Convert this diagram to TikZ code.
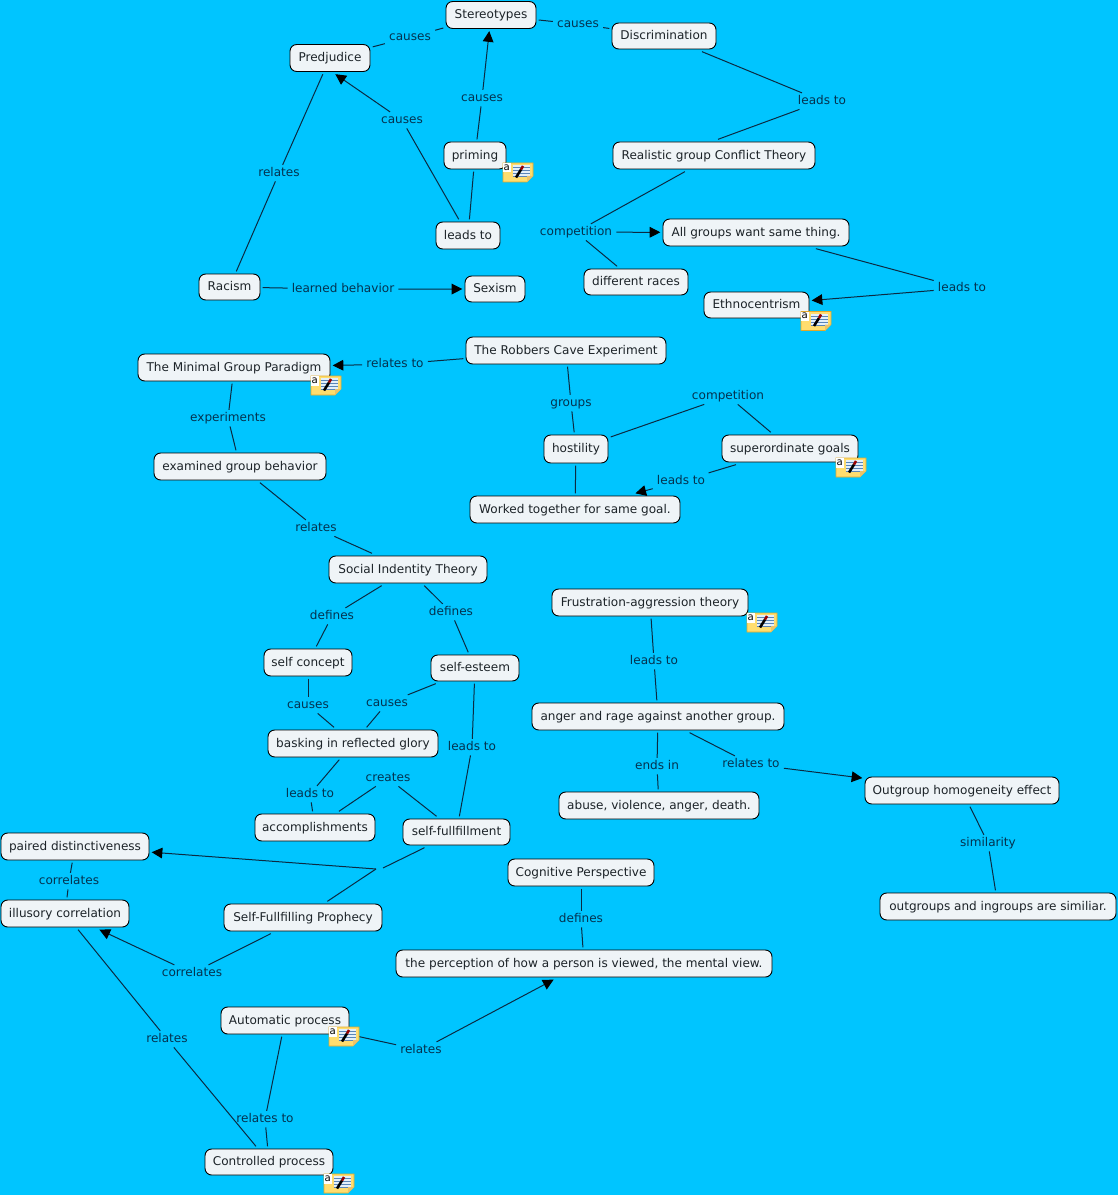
\documentclass[tikz,border=0pt]{standalone}
\usepackage{fontspec}
\setmainfont{DejaVu Sans}
\usetikzlibrary{arrows.meta}
\definecolor{bgblue}{HTML}{00C5FF}
\definecolor{boxfill}{HTML}{EFF4F7}
\definecolor{inkc}{HTML}{1C2328}
\definecolor{linkc}{HTML}{04324F}
\definecolor{linec}{HTML}{0B2A42}
\definecolor{noteY}{HTML}{FFDD6E}
\definecolor{noteE}{HTML}{E2A92A}
\definecolor{noteB}{HTML}{E4F0FA}
\definecolor{noteL}{HTML}{5B86B8}
\tikzset{
  x=0.75pt,y=-0.75pt,
  every node/.style={font=\fontsize{9.05pt}{11pt}\selectfont,text=inkc},
  concept/.style={draw=black,line width=0.7pt,fill=boxfill,rounded corners=5pt,inner sep=0pt,outer sep=2pt,text height=7.8pt,text depth=2.2pt},
  sz/.style 2 args={minimum width=#1*0.75pt,minimum height=#2*0.75pt},
  linkph/.style={inner ysep=0.6pt,inner xsep=2.6pt,outer sep=0.6pt,text=linkc,text height=7.5pt,text depth=2.5pt,yshift=-1.6pt},
  conn/.style={draw=linec,line width=0.75pt},
  arr/.style={conn,-{Triangle[length=8pt,width=8pt,color=black]}},
  noteicon/.pic={
    \fill[noteY,draw=noteE,line width=0.5pt] (-15,-9.5) -- (15,-9.5) -- (15,3.5) -- (9,9.5) -- (-15,9.5) -- cycle;
    \fill[noteB] (-5.5,-7.5) rectangle (12,4.5);
    \foreach \yy in {-5,-2,1,4}{\draw[noteL,line width=0.4pt] (-5.5,\yy) -- (12,\yy);}
    \fill[noteE!70!white] (15,3.5) -- (9,3.5) -- (9,9.5) -- cycle;
    \fill[white] (-15,-9.5) rectangle (-7.5,0);
    \node[inner sep=0pt,font=\fontsize{7.6pt}{8pt}\selectfont,text=black] (glyph) at (-11.2,-5) {a};
    \draw[black,line width=1.9pt] (-2,5) -- (3,-3);
    \draw[red!60!black,line width=1.9pt] (3,-3) -- (5,-6.5);
  }
}
\begin{document}
\begin{tikzpicture}
\fill[bgblue] (0,0) rectangle (1118,1195);
\useasboundingbox (0,0) rectangle (1118,1195);
% concepts
\node[concept,sz={90}{27}] (stereo) at (491,15) {Stereotypes};
\node[concept,sz={80}{27}] (prej) at (330,58) {Predjudice};
\node[concept,sz={104}{26}] (discr) at (664,36) {Discrimination};
\node[concept,sz={202}{27}] (realistic) at (714,155.5) {Realistic group Conflict Theory};
\node[concept,sz={62}{27}] (priming) at (475,155.5) {priming};
\node[concept,sz={64}{27}] (leadsbox) at (468,235.5) {leads to};
\node[concept,sz={61}{26}] (racism) at (229.5,287) {Racism};
\node[concept,sz={60}{26}] (sexism) at (495,289) {Sexism};
\node[concept,sz={186}{27}] (allgroups) at (756,232.5) {All groups want same thing.};
\node[concept,sz={104}{26}] (races) at (636,282) {different races};
\node[concept,sz={105}{26}] (ethno) at (756.5,305) {Ethnocentrism};
\node[concept,sz={200}{27}] (robbers) at (566,350.5) {The Robbers Cave Experiment};
\node[concept,sz={192}{27}] (minimal) at (234,367.5) {The Minimal Group Paradigm};
\node[concept,sz={172}{27}] (examined) at (240,466.5) {examined group behavior};
\node[concept,sz={64}{28}] (hostility) at (576,449) {hostility};
\node[concept,sz={136}{27}] (superord) at (790,448.5) {superordinate goals};
\node[concept,sz={210}{27}] (worked) at (575,509.5) {Worked together for same goal.};
\node[concept,sz={158}{27}] (social) at (408,569.5) {Social Indentity Theory};
\node[concept,sz={196}{27}] (frustr) at (650,602.5) {Frustration-aggression theory};
\node[concept,sz={88}{27}] (selfconcept) at (308,662.5) {self concept};
\node[concept,sz={88}{26}] (selfesteem) at (475,668) {self-esteem};
\node[concept,sz={252}{27}] (anger) at (658,716.5) {anger and rage against another group.};
\node[concept,sz={170}{27}] (basking) at (353,743.5) {basking in reflected glory};
\node[concept,sz={120}{27}] (accompl) at (315,827.5) {accomplishments};
\node[concept,sz={107}{26}] (selffull) at (456.5,832) {self-fullfillment};
\node[concept,sz={200}{27}] (abuse) at (659,805.5) {abuse, violence, anger, death.};
\node[concept,sz={194}{27}] (outgroup) at (962,790.5) {Outgroup homogeneity effect};
\node[concept,sz={148}{27}] (paired) at (75,846.5) {paired distinctiveness};
\node[concept,sz={128}{27}] (illusory) at (65,913.5) {illusory correlation};
\node[concept,sz={158}{27}] (prophecy) at (303,917.5) {Self-Fullfilling Prophecy};
\node[concept,sz={146}{27}] (cognitive) at (581,872.5) {Cognitive Perspective};
\node[concept,sz={236}{27}] (outgroups) at (998,906.5) {outgroups and ingroups are similiar.};
\node[concept,sz={376}{27}] (perception) at (584,963.5) {the perception of how a person is viewed, the mental view.};
\node[concept,sz={128}{27}] (automatic) at (285,1020.5) {Automatic process};
\node[concept,sz={128}{26}] (controlled) at (269,1162) {Controlled process};
% linking phrases
\node[linkph] (l1) at (410,35) {causes};
\node[linkph] (l2) at (578,22) {causes};
\node[linkph] (l3) at (482,96) {causes};
\node[linkph] (l4) at (822,99) {leads to};
\node[linkph] (l5) at (402,118) {causes};
\node[linkph] (l6) at (279,171) {relates};
\node[linkph] (l7) at (576,230) {competition};
\node[linkph] (l8) at (343,287) {learned behavior};
\node[linkph] (l9) at (962,286) {leads to};
\node[linkph] (l10) at (395,362) {relates to};
\node[linkph] (l11) at (571,401) {groups};
\node[linkph] (l12) at (728,394) {competition};
\node[linkph] (l13) at (228,416) {experiments};
\node[linkph] (l14) at (681,479) {leads to};
\node[linkph] (l15) at (316,526) {relates};
\node[linkph] (l16) at (332,614) {defines};
\node[linkph] (l17) at (451,610) {defines};
\node[linkph] (l18) at (654,659) {leads to};
\node[linkph] (l19) at (308,703) {causes};
\node[linkph] (l20) at (387,701) {causes};
\node[linkph] (l21) at (472,745) {leads to};
\node[linkph] (l22) at (388,776) {creates};
\node[linkph] (l23) at (310,792) {leads to};
\node[linkph] (l24) at (657,764) {ends in};
\node[linkph] (l25) at (751,762) {relates to};
\node[linkph] (l26) at (988,841) {similarity};
\node[linkph] (l27) at (69,879) {correlates};
\node[linkph] (l28) at (192,971) {correlates};
\node[linkph] (l29) at (581,917) {defines};
\node[linkph] (l30) at (421,1048) {relates};
\node[linkph] (l31) at (167,1037) {relates};
\node[linkph] (l32) at (265,1117) {relates to};
\coordinate (junction) at (376,869);
\coordinate (junctionb) at (383,868);
% connectors
\draw[conn] (prej) -- (l1);
\draw[conn] (l1) -- (stereo);
\draw[conn] (stereo) -- (l2);
\draw[conn] (l2) -- (discr);
\draw[conn] (priming) -- (l3);
\draw[arr] (l3) -- (stereo);
\draw[conn] (discr) -- (l4);
\draw[conn] (l4) -- ([xshift=3pt]realistic.north);
\draw[conn] (leadsbox) -- (l5);
\draw[arr] (l5) -- ([xshift=4pt]prej.south);
\draw[conn] (priming) -- (leadsbox);
\draw[conn] (prej) -- (l6);
\draw[conn] (l6) -- (racism);
\draw[conn] (realistic) -- (l7);
\draw[arr] (l7) -- (allgroups);
\draw[conn] (l7) -- (races);
\draw[conn] (racism) -- (l8);
\draw[arr] (l8) -- (sexism);
\draw[conn] (allgroups) -- (l9);
\draw[arr] (l9) -- (ethno);
\draw[conn] (robbers) -- (l10);
\draw[arr] (l10) -- (minimal);
\draw[conn] (robbers) -- (l11);
\draw[conn] (l11) -- (hostility);
\draw[conn] (hostility) -- (l12);
\draw[conn] (l12) -- (superord);
\draw[conn] (hostility) -- (worked);
\draw[conn] (minimal) -- (l13);
\draw[conn] (l13) -- (examined);
\draw[conn] (superord) -- (l14);
\draw[arr] (l14) -- (worked);
\draw[conn] (examined) -- (l15);
\draw[conn] (l15) -- (social);
\draw[conn] (social) -- (l16);
\draw[conn] (l16) -- (selfconcept);
\draw[conn] (social) -- (l17);
\draw[conn] (l17) -- (selfesteem);
\draw[conn] (frustr) -- (l18);
\draw[conn] (l18) -- (anger);
\draw[conn] (selfconcept) -- (l19);
\draw[conn] (l19) -- (basking);
\draw[conn] (selfesteem) -- (l20);
\draw[conn] (l20) -- (basking);
\draw[conn] (selfesteem) -- (l21);
\draw[conn] (l21) -- (selffull);
\draw[conn] (l22) -- (accompl);
\draw[conn] (l22) -- (selffull);
\draw[conn] (basking) -- (l23);
\draw[conn] (l23) -- (accompl);
\draw[conn] (anger) -- (l24);
\draw[conn] (l24) -- (abuse);
\draw[conn] (anger) -- (l25);
\draw[arr] (l25) -- (outgroup);
\draw[conn] (outgroup) -- (l26);
\draw[conn] (l26) -- (outgroups);
\draw[conn] (paired) -- (l27);
\draw[conn] (l27) -- (illusory);
\draw[conn] (selffull) -- (junctionb);
\draw[conn] (prophecy) -- (junction);
\draw[arr] (junction) -- (paired);
\draw[conn] (prophecy) -- (l28);
\draw[arr] (l28) -- (illusory);
\draw[conn] (cognitive) -- (l29);
\draw[conn] (l29) -- (perception);
\draw[conn] (automatic) -- (l30);
\draw[arr] (l30) -- (perception);
\draw[conn] (controlled) -- (l31);
\draw[conn] (l31) -- (illusory);
\draw[conn] (automatic) -- (l32);
\draw[conn] (l32) -- (controlled);
% note icons
\pic at (518,172.5) {noteicon};
\pic at (816,321) {noteicon};
\pic at (326,385.5) {noteicon};
\pic at (851,467.5) {noteicon};
\pic at (762,622.5) {noteicon};
\pic at (344,1036.5) {noteicon};
\pic at (339,1183.5) {noteicon};
\end{tikzpicture}
\end{document}
